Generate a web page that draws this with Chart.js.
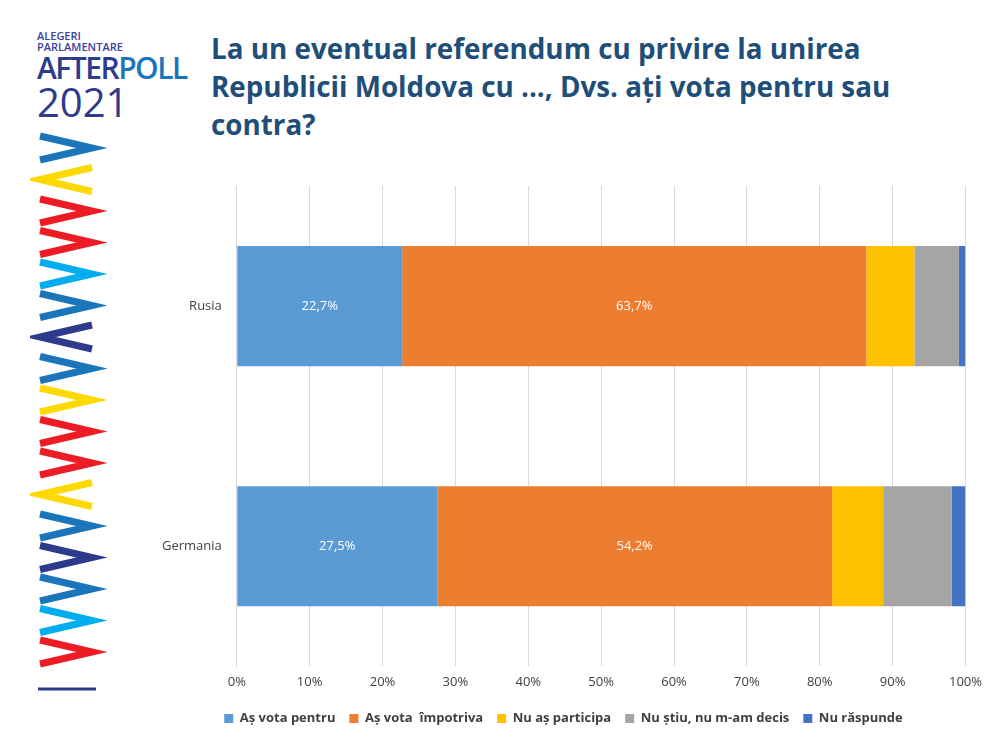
<!DOCTYPE html>
<html><head><meta charset="utf-8">
<script src="https://cdn.jsdelivr.net/npm/chart.js@4"></script>
<style>
body{margin:0;width:1000px;height:735px;background:#fff;position:relative;font-family:"Open Sans",sans-serif;overflow:hidden}
#title{position:absolute;left:211px;top:29px;width:730px;font-family:"Open Sans";font-weight:bold;font-size:27.8px;line-height:38px;color:#1f4e79}
#logo{position:absolute;left:37px;top:30px;color:#2e3a8c;font-family:"Open Sans"}
#box{position:absolute;left:155px;top:166px;width:835px;height:569px}
#deco{position:absolute;left:30px;top:128px}
</style></head><body>
<div id="logo">
<div style="font-size:11px;line-height:11px;font-weight:600;color:#3b3fa0">ALEGERI<br>PARLAMENTARE</div>
<div style="font-size:30px;line-height:32px;font-weight:600;letter-spacing:-1.5px"><span style="color:#2e3a8c">AFTER</span><span style="color:#1b75bb">POLL</span></div>
<div style="font-size:40px;line-height:36px;font-weight:500;color:#2e3a8c">2021</div>
</div>
<canvas id="deco" width="80" height="570"></canvas>
<div id="title">La un eventual referendum cu privire la unirea Republicii Moldova cu ..., Dvs. ați vota pentru sau contra?</div>
<div id="box"><canvas id="chart"></canvas></div>
<script>
var categories = ['Rusia', 'Germania'];
var seriesNames = ['Aș vota pentru', 'Aș vota  împotriva', 'Nu aș participa', 'Nu știu, nu m-am decis', 'Nu răspunde'];
var pentru = [22.7, 27.5];
var impotriva = [63.7, 54.2];
var nuParticipa = [6.6, 7.0];
var nuStiu = [6.1, 9.4];
var nuRaspunde = [0.9, 1.9];
var colors = ['#5b9bd5', '#ed7d31', '#ffc000', '#a5a5a5', '#4472c4'];

// decorative chevrons
var d = document.getElementById('deco').getContext('2d');
var stripeColors = ['#1b75bb','#fdd900','#ed1c24','#ed1c24','#00aeef','#1b75bb','#2e3a8c','#1b75bb','#fdd900','#ed1c24','#ed1c24','#fdd900','#1b75bb','#2e3a8c','#1b75bb','#00aeef','#ed1c24'];
var dirs = [1,-1,1,1,1,1,-1,1,1,1,1,-1,1,1,1,1,1];
d.lineWidth = 7;
for (var i = 0; i < stripeColors.length; i++) {
  var y = 8 + i * 31.5;
  d.strokeStyle = stripeColors[i];
  d.beginPath();
  if (dirs[i] > 0) { d.moveTo(10, y); d.lineTo(62, y + 12); d.lineTo(10, y + 24); }
  else { d.moveTo(62, y); d.lineTo(10, y + 12); d.lineTo(62, y + 24); }
  d.stroke();
}
d.lineWidth = 3; d.strokeStyle = '#2e3a8c';
d.beginPath(); d.moveTo(8, 561); d.lineTo(66, 561); d.stroke();

var labelPlugin = {
  id: 'labels',
  afterDatasetsDraw: function(chart) {
    var ctx = chart.ctx;
    ctx.save();
    ctx.fillStyle = '#fff';
    ctx.font = '13px "Open Sans"';
    ctx.textAlign = 'center';
    ctx.textBaseline = 'middle';
    [0, 1].forEach(function(di) {
      chart.getDatasetMeta(di).data.forEach(function(bar, j) {
        var v = chart.data.datasets[di].data[j];
        ctx.fillText(v.toFixed(1).replace('.', ',') + '%', (bar.x + bar.base) / 2, bar.y);
      });
    });
    ctx.restore();
  }
};

var allData = [pentru, impotriva, nuParticipa, nuStiu, nuRaspunde];
new Chart(document.getElementById('chart'), {
  type: 'bar',
  data: {
    labels: categories,
    datasets: allData.map(function(arr, i) {
      return { label: seriesNames[i], data: arr, backgroundColor: colors[i], barPercentage: 0.5, categoryPercentage: 1 };
    })
  },
  options: {
    indexAxis: 'y',
    responsive: true,
    maintainAspectRatio: false,
    animation: false,
    layout: { padding: { right: 18, top: 20 } },
    scales: {
      x: {
        stacked: true, min: 0, max: 100,
        ticks: { stepSize: 10, color: '#404040', font: { size: 13, family: 'Open Sans' }, callback: function(v) { return v + '%'; }, padding: 8 },
        grid: { color: '#d9d9d9', drawTicks: false },
        border: { display: false }
      },
      y: {
        stacked: true,
        ticks: { color: '#404040', font: { size: 13, family: 'Open Sans' }, padding: 7 },
        grid: { display: false },
        border: { color: '#d9d9d9' }
      }
    },
    plugins: {
      legend: {
        position: 'bottom',
        labels: { boxWidth: 9, boxHeight: 9, color: '#404040', font: { size: 13, weight: 'bold', family: 'Open Sans' }, padding: 14 }
      },
      tooltip: { enabled: false }
    }
  },
  plugins: [labelPlugin]
});
</script>
</body></html>
